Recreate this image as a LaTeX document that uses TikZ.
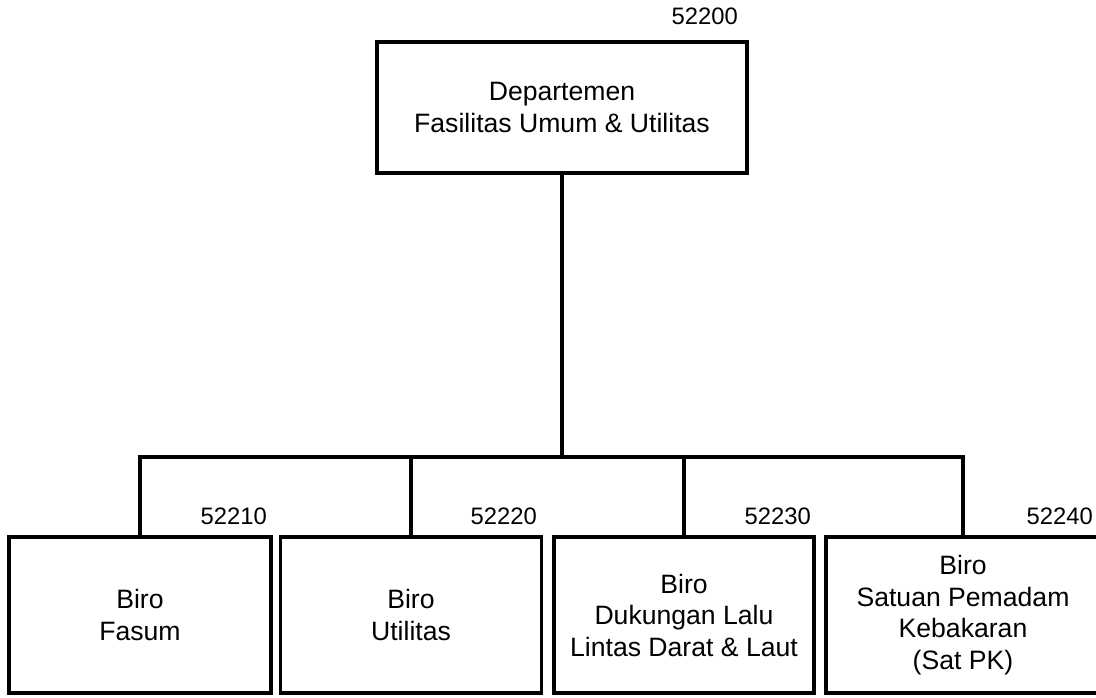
\documentclass[tikz,border=0pt]{standalone}
\usepackage{fontspec}
\setmainfont{Liberation Sans}
\begin{document}
\begin{tikzpicture}[x=1pt,y=-1pt,
  orgbox/.style={draw=black, line width=3.2pt, align=center, inner sep=0pt,
    font=\fontsize{26.6}{31.5}\selectfont},
  codelabel/.style={anchor=base east, inner sep=0pt, font=\fontsize{23.8}{27}\selectfont},
  link/.style={draw=black, line width=3.2pt, line cap=rect}]
\clip (0,0) rectangle (1096,697);
\fill[white] (0,0) rectangle (1096,697);
% boxes
\node[orgbox, minimum width=370pt, minimum height=131pt] (dept) at (562,107.5)
  {Departemen\\Fasilitas Umum \& Utilitas};
\node[orgbox, minimum width=262pt, minimum height=156pt] (fasum) at (140,615)
  {Biro\\Fasum};
\node[orgbox, minimum width=261pt, minimum height=156pt] (util) at (411,615)
  {Biro\\Utilitas};
\node[orgbox, minimum width=260pt, minimum height=156pt] (lalu) at (684,615)
  {Biro\\Dukungan Lalu\\Lintas Darat \& Laut};
\node[orgbox, minimum width=274pt, minimum height=156pt] (pk) at (963,615)
  {Biro\\Satuan Pemadam\\Kebakaran\\(Sat PK)};
% codes
\node[codelabel] (c0) at (738,24.5) {52200};
\node[codelabel] (c1) at (267,524.5) {52210};
\node[codelabel] (c2) at (537,524.5) {52220};
\node[codelabel] (c3) at (811,524.5) {52230};
\node[codelabel] (c4) at (1093,524.5) {52240};
% connectors
\coordinate (bar) at (562,457);
\draw[link] (dept.south) -- (bar);
\draw[link] (fasum.north |- bar) -- (pk.north |- bar);
\draw[link] (fasum.north |- bar) -- (fasum.north);
\draw[link] (util.north |- bar) -- (util.north);
\draw[link] (lalu.north |- bar) -- (lalu.north);
\draw[link] (pk.north |- bar) -- (pk.north);
\end{tikzpicture}
\end{document}
